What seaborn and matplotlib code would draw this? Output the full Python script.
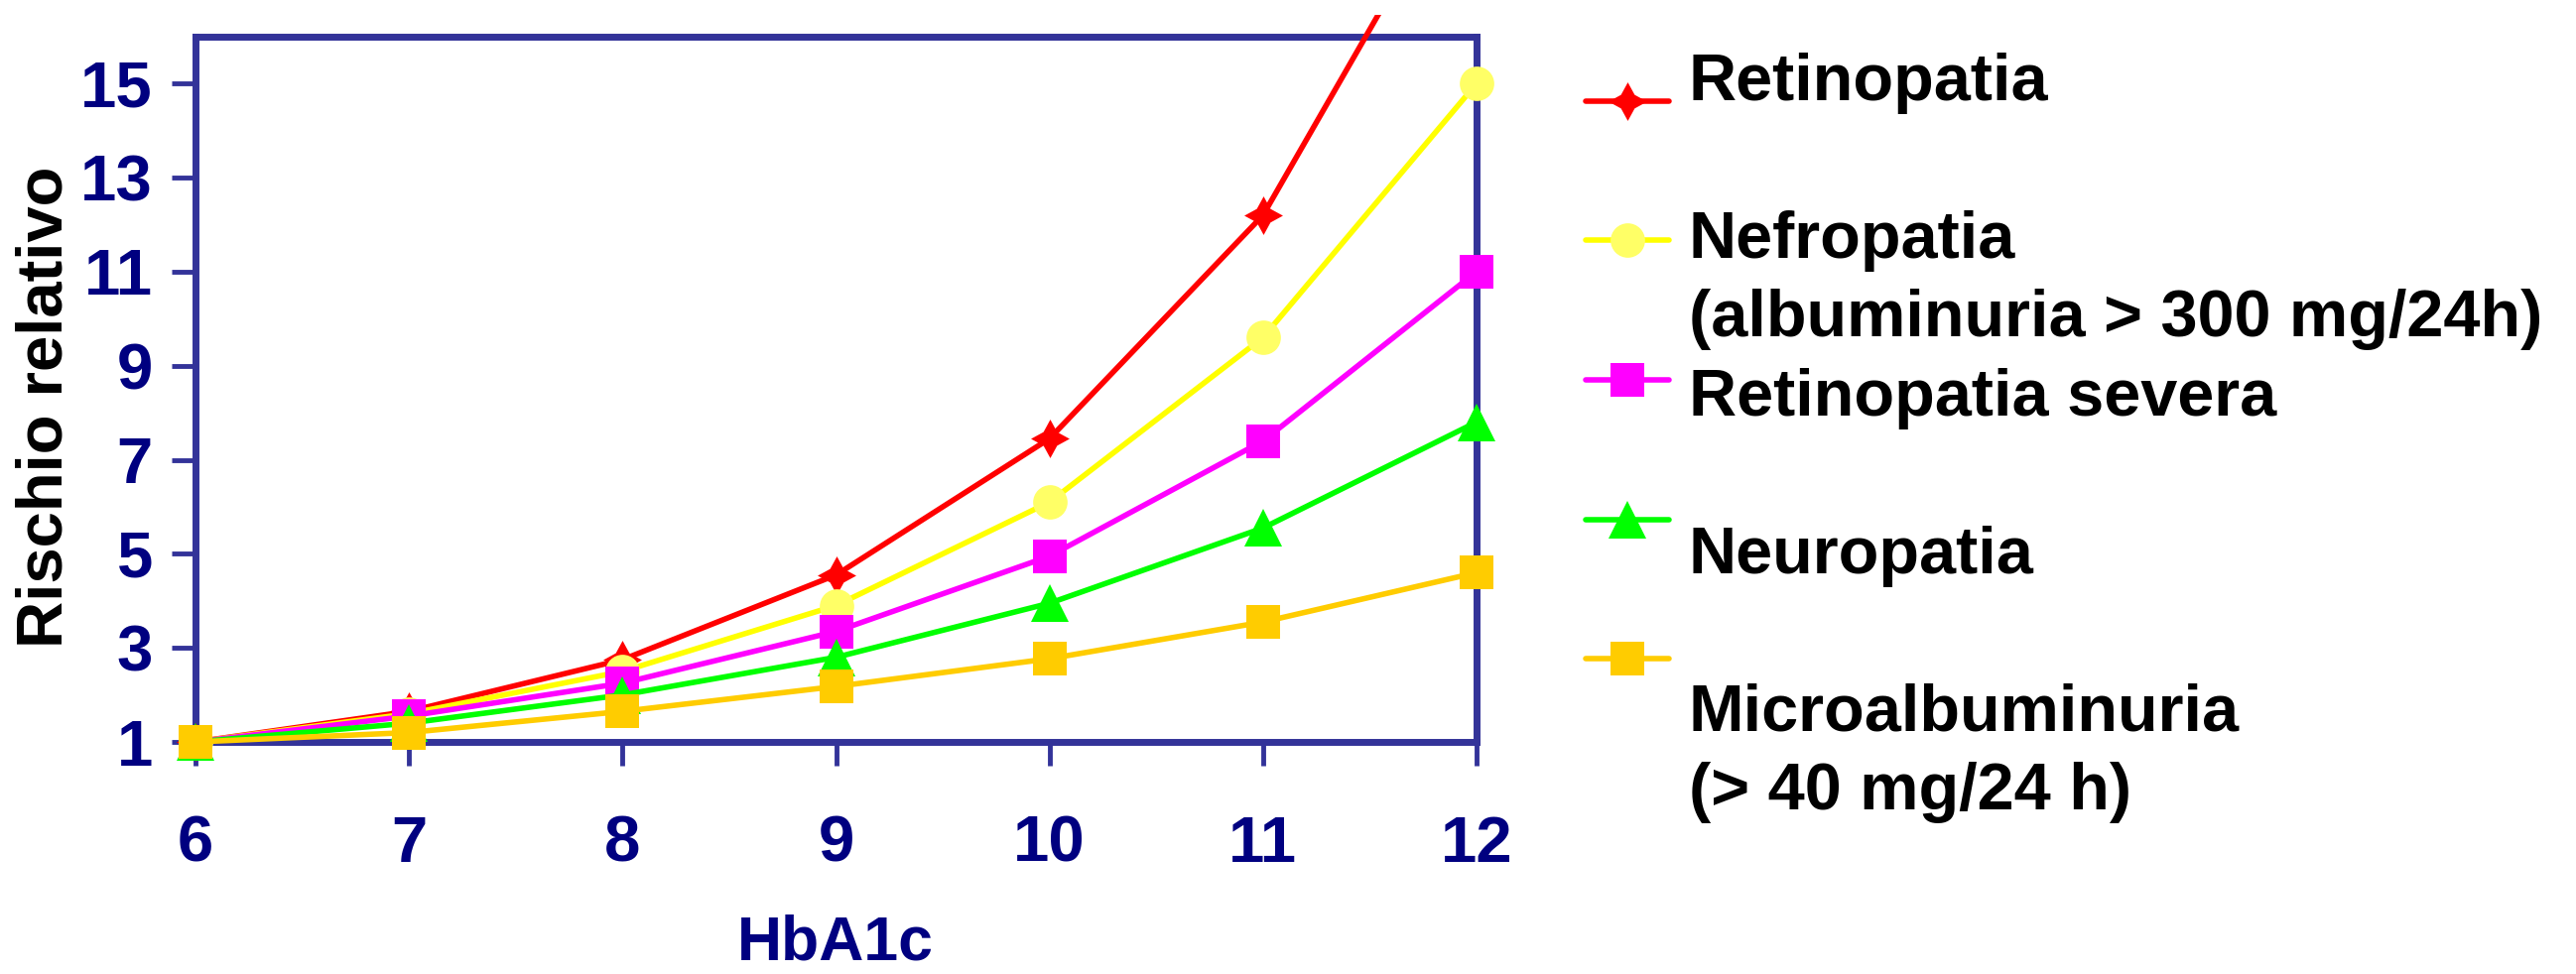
import matplotlib
matplotlib.use("Agg")
import matplotlib.pyplot as plt
import seaborn as sns

# dati
hba1c = [6, 7, 8, 9, 10, 11, 12]
retinopatia = [1.0, 1.65, 2.75, 4.55, 7.45, 12.2, 20.1]
nefropatia = [1.0, 1.6, 2.5, 3.9, 6.1, 9.6, 15.0]
retinopatia_severa = [1.0, 1.55, 2.25, 3.35, 4.95, 7.4, 11.0]
neuropatia = [1.0, 1.4, 2.0, 2.8, 3.95, 5.55, 7.8]
microalbuminuria = [1.0, 1.2, 1.65, 2.18, 2.77, 3.55, 4.6]

y_ticks = [1, 3, 5, 7, 9, 11, 13, 15]
legend_lines = ["Retinopatia", " ", "Nefropatia", "(albuminuria > 300 mg/24h)",
                "Retinopatia severa", " ", "Neuropatia", " ",
                "Microalbuminuria", "(> 40 mg/24 h)"]

sns.set_style("white")
plt.rcParams["font.family"] = ["Liberation Sans", "DejaVu Sans"]
plt.rcParams["font.weight"] = "bold"

NAVY = "#000080"
FRAME = "#333399"

fig = plt.figure(figsize=(25.96, 9.82), dpi=100)
ax = fig.add_axes([0.06595, 0.21894, 0.51718, 0.76578])

# serie: valori, colore linea, marker, colore marker
series = [
    (retinopatia, "#FF0000", (4, 1, 0), "#FF0000", 28),
    (nefropatia, "#FFFF00", "o", "#FFFF66", 25),
    (retinopatia_severa, "#FF00FF", "s", "#FF00FF", 25),
    (neuropatia, "#00FF00", "^", "#00FF00", 27),
    (microalbuminuria, "#FFCC00", "s", "#FFCC00", 25),
]
for vals, col, mk, mfc, ms in series:
    sns.lineplot(x=hba1c, y=vals, ax=ax, color=col, linewidth=4,
                 marker=mk, markersize=ms, markerfacecolor=mfc,
                 markeredgecolor=mfc, markeredgewidth=0, zorder=3,
                 legend=False)

ax.set_xlim(5.88, 12.12)
ax.set_ylim(0.6, 16.46)
ax.set_xticks(hba1c)
ax.set_yticks(y_ticks)

for side in ["left", "right", "top", "bottom"]:
    ax.spines[side].set_visible(True)
    ax.spines[side].set_color(FRAME)
    ax.spines[side].set_linewidth(5)
ax.spines["left"].set_position(("data", 6))
ax.spines["right"].set_position(("data", 12))
ax.spines["bottom"].set_position(("data", 1))
ax.spines["top"].set_position(("data", 16))
ax.spines["left"].set_bounds(1, 16)
ax.spines["right"].set_bounds(1, 16)
ax.spines["top"].set_bounds(6, 12)
ax.spines["bottom"].set_bounds(6, 12)

ax.tick_params(axis="both", direction="out", length=17, width=3.5,
               color=FRAME, labelcolor=NAVY, labelsize=47)
ax.tick_params(axis="x", pad=36, bottom=True)
ax.tick_params(axis="y", pad=14, left=True)
for lbl in ax.get_xticklabels() + ax.get_yticklabels():
    lbl.set_fontweight("bold")

ax.set_ylabel("Rischio relativo", fontsize=47, fontweight="bold", color="black")
ax.yaxis.set_label_coords(0.0175, 0.5825, transform=fig.transFigure)
ax.yaxis.label.set_va("center")
ax.set_xlabel("HbA1c", fontsize=45, fontweight="bold", color=NAVY)
ax.xaxis.set_label_coords(0.3244, 0.002, transform=fig.transFigure)
ax.xaxis.label.set_va("bottom")

# legenda: simboli e testi in due colonne separate come nell'originale
handles = ax.get_lines()[:5]
fig.legend(handles, [""] * 5, loc="upper left", bbox_to_anchor=(0.6156, 0.9216),
           frameon=False, fontsize=48, handlelength=1.26, labelspacing=1.18,
           borderpad=0, borderaxespad=0, handletextpad=0)

blank = [plt.Line2D([], [], alpha=0) for _ in legend_lines]
leg_txt = fig.legend(blank, legend_lines, loc="upper left", bbox_to_anchor=(0.6556, 0.946),
                     frameon=False, handlelength=0, handletextpad=0, labelspacing=0.262,
                     borderpad=0, borderaxespad=0,
                     prop={"size": 48, "weight": "bold", "family": ["Liberation Sans", "DejaVu Sans"]})
for t in leg_txt.get_texts():
    t.set_color("black")

fig.savefig("out.png", dpi=100, facecolor="white")
